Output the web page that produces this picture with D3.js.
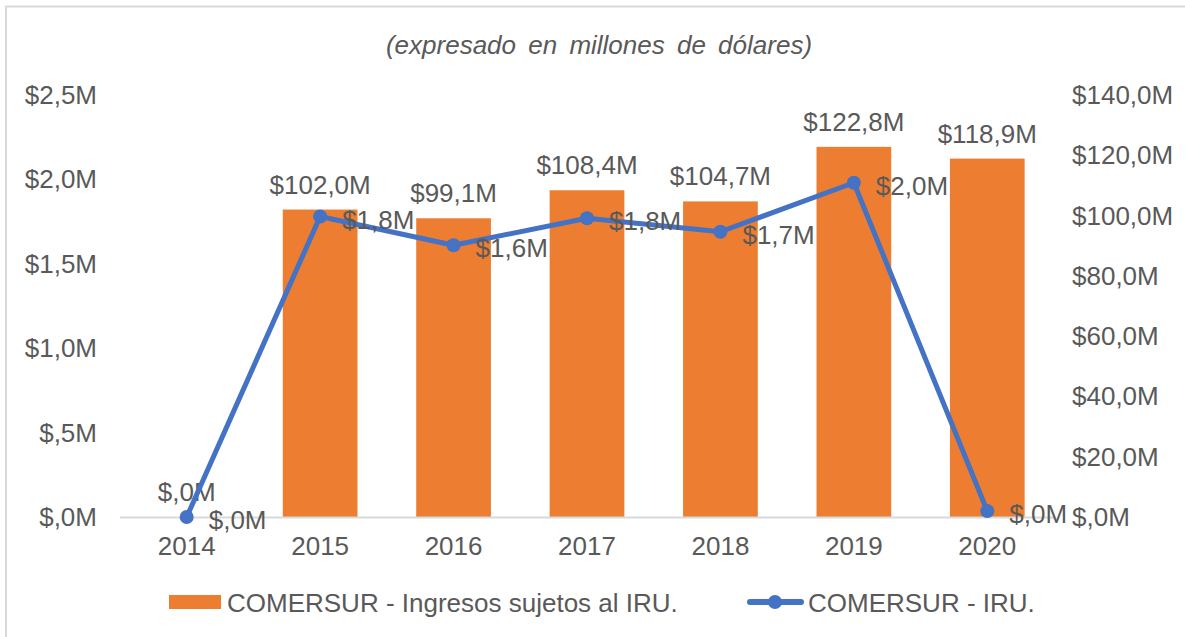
<!DOCTYPE html>
<html>
<head>
<meta charset="utf-8">
<script src="https://cdn.jsdelivr.net/npm/d3@7"></script>
<style>
  body { margin: 0; background: #fff; }
  svg text { font-family: "Liberation Sans", Arial, sans-serif; fill: #595959; }
</style>
</head>
<body>
<svg id="chart" width="1185" height="637"></svg>
<script>
// data
const years = ["2014", "2015", "2016", "2017", "2018", "2019", "2020"]
const ingresos = [0, 102.0, 99.1, 108.4, 104.7, 122.8, 118.9]   // bars, right axis (M$)
const iru = [0, 1.78, 1.61, 1.77, 1.69, 1.98, 0.035]             // line, left axis (M$)
const leftTicks = [0, 0.5, 1, 1.5, 2, 2.5]
const rightTicks = [0, 20, 40, 60, 80, 100, 120, 140]
const seriesNames = ["COMERSUR - Ingresos sujetos al IRU.", "COMERSUR - IRU."]

const orange = "#ed7d31", blue = "#4472c4"
const svg = d3.select('#chart')

// excel style "$1,8M" / "$,0M"
function fmt(v) {
    let s = v.toFixed(1).split('.')
    let ent = s[0] === '0' ? '' : s[0]
    return '$' + ent + ',' + s[1] + 'M'
}

// frame (only top and left edges are visible in the picture)
svg.append('rect')
    .attr('x', 6).attr('y', 6.5).attr('width', 1300).attr('height', 700)
    .attr('fill', 'none').attr('stroke', '#d9d9d9').attr('stroke-width', 2)

svg.append('text')
    .attr('x', 599).attr('y', 54)
    .attr('text-anchor', 'middle')
    .style('font-style', 'italic').style('font-size', '26px')
    .attr('word-spacing', '5')
    .text('(expresado en millones de dólares)')

let x = d3.scaleBand().domain(years).range([120, 1054]).paddingInner(0.44).paddingOuter(0.22)
let yL = d3.scaleLinear().domain([0, 2.5]).range([517, 95])
let yR = d3.scaleLinear().domain([0, 140]).range([517, 95])

// left axis labels
svg.append('g').selectAll('text')
    .data(leftTicks)
    .join('text')
    .attr('x', 97).attr('y', d => yL(d) + 9)
    .attr('text-anchor', 'end')
    .style('font-size', '26px')
    .text(d => fmt(d))

// right axis labels
svg.append('g').selectAll('text')
    .data(rightTicks)
    .join('text')
    .attr('x', 1072).attr('y', d => yR(d) + 9)
    .style('font-size', '26px')
    .text(d => fmt(d))

// category labels
svg.append('g').selectAll('text')
    .data(years)
    .join('text')
    .attr('x', d => x(d) + x.bandwidth() / 2).attr('y', 555)
    .attr('text-anchor', 'middle')
    .style('font-size', '26px')
    .text(d => d)

// bars
let barData = years.map((y, i) => ({year: y, v: ingresos[i]}))
svg.append('g').selectAll('rect')
    .data(barData)
    .join('rect')
    .attr('x', d => x(d.year))
    .attr('y', d => yR(d.v))
    .attr('width', x.bandwidth())
    .attr('height', d => yR(0) - yR(d.v))
    .attr('fill', orange)

// baseline
svg.append('line')
    .attr('x1', 120).attr('x2', 1054).attr('y1', 517.5).attr('y2', 517.5)
    .attr('stroke', '#d9d9d9').attr('stroke-width', 2)

// bar labels
svg.append('g').selectAll('text')
    .data(barData)
    .join('text')
    .attr('x', d => x(d.year) + x.bandwidth() / 2)
    .attr('y', d => yR(d.v) - 16)
    .attr('text-anchor', 'middle')
    .style('font-size', '26px')
    .text(d => fmt(d.v))

// line series
let lineData = years.map((y, i) => ({year: y, v: iru[i]}))
let cx = d => x(d.year) + x.bandwidth() / 2
let line = d3.line().x(cx).y(d => yL(d.v))
svg.append('path')
    .attr('d', line(lineData))
    .attr('fill', 'none')
    .attr('stroke', blue)
    .attr('stroke-width', 5)
    .attr('stroke-linejoin', 'round')
svg.append('g').selectAll('circle')
    .data(lineData)
    .join('circle')
    .attr('cx', cx).attr('cy', d => yL(d.v))
    .attr('r', 7)
    .attr('fill', blue)
svg.append('g').selectAll('text')
    .data(lineData)
    .join('text')
    .attr('x', d => cx(d) + 22)
    .attr('y', d => yL(d.v) + 12)
    .style('font-size', '26px')
    .text(d => fmt(d.v))

// legend
let lg = svg.append('g')
lg.append('rect').attr('x', 169).attr('y', 595).attr('width', 52).attr('height', 14).attr('fill', orange)
lg.append('text').attr('x', 227).attr('y', 612).style('font-size', '26px').text(seriesNames[0])
lg.append('line').attr('x1', 750).attr('x2', 801).attr('y1', 602).attr('y2', 602)
    .attr('stroke', blue).attr('stroke-width', 6).attr('stroke-linecap', 'round')
lg.append('circle').attr('cx', 775).attr('cy', 602).attr('r', 7).attr('fill', blue)
lg.append('text').attr('x', 808).attr('y', 612).style('font-size', '26px').text(seriesNames[1])
</script>
</body>
</html>
